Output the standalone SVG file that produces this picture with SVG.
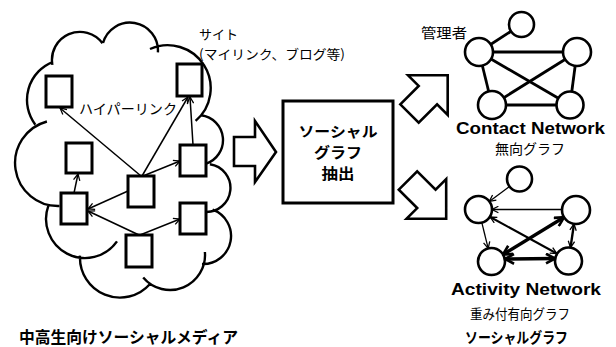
<svg xmlns="http://www.w3.org/2000/svg" width="616" height="347" viewBox="0 0 616 347">
<style>
.jp{font-family:"Noto Sans CJK JP","Noto Sans",sans-serif;fill:#000}
.b{font-weight:bold}
.en{font-family:"Liberation Sans","Noto Sans",sans-serif;font-weight:bold;fill:#000}
.site{fill:#fff;stroke:#000;stroke-width:3}
.ln{stroke:#000;stroke-width:1.5;fill:none}
.nd{fill:#fff;stroke:#000;stroke-width:2.6}
.ce{stroke:#000;stroke-width:2.8;fill:none}
.big{fill:#fff;stroke:#000;stroke-width:2.6;stroke-linejoin:miter}
</style>
<defs>
<marker id="ah" viewBox="0 0 10 10" refX="9" refY="5" markerWidth="8" markerHeight="8" markerUnits="userSpaceOnUse" orient="auto-start-reverse">
<path d="M1,1 L9,5 L1,9" fill="none" stroke="#000" stroke-width="1.6"/>
</marker>
<marker id="ahB" viewBox="0 0 10 10" refX="8.5" refY="5" markerWidth="12" markerHeight="12" markerUnits="userSpaceOnUse" orient="auto-start-reverse">
<path d="M1,1 L8.5,5 L1,9" fill="none" stroke="#000" stroke-width="2.2"/>
</marker>
<polygon id="bigarrow" points="0,-13 26,-13 26,-28 54,0 26,28 26,13 0,13"/>
</defs>

<g id="cloud" fill="none" stroke="#000" stroke-width="2.4">
<path d="M52.4,64.9 A28,28 0 0 1 102.5,43.3
M103,43 A28,28 0 0 1 157.9,52.4
M150,49 A43,43 0 0 1 195.6,120.9
M201,115.2 A25,25 0 0 1 205.7,163.8
M209.9,164.2 A24,24 0 0 1 204.9,211.9
M212.6,209.7 A28,28 0 0 1 202,264
M204.9,252 A35,35 0 0 1 143.2,277.5
M150,284 A40,40 0 0 1 80,255.6
M117,241.4 A39,39 0 0 1 48.4,205.7
M59.5,206 A43,43 0 0 1 46.9,121.5
M35.3,124.7 A41,41 0 0 1 53,61.8"/>
</g>

<g id="hyperlinks">
<line class="ln" x1="141" y1="176" x2="60" y2="108" marker-end="url(#ah)"/>
<line class="ln" x1="142" y1="176" x2="188" y2="97" marker-end="url(#ah)"/>
<line class="ln" x1="193" y1="145" x2="190" y2="97" marker-end="url(#ah)"/>
<line class="ln" x1="143" y1="176" x2="180" y2="161" marker-end="url(#ah)"/>
<line class="ln" x1="128" y1="191" x2="88" y2="209" marker-end="url(#ah)"/>
<line class="ln" x1="74" y1="193" x2="78" y2="174" marker-end="url(#ah)"/>
<line class="ln" x1="139" y1="235" x2="88" y2="211" marker-end="url(#ah)"/>
<line class="ln" x1="140" y1="235" x2="180" y2="219" marker-end="url(#ah)"/>
</g>

<g id="site1"><rect class="site" x="46" y="76" width="26" height="31"/></g>
<g id="site2"><rect class="site" x="177" y="64" width="25" height="32"/></g>
<g id="site3"><rect class="site" x="66" y="143" width="26" height="30"/></g>
<g id="site4"><rect class="site" x="180" y="145" width="26" height="31"/></g>
<g id="site5"><rect class="site" x="128" y="176" width="26" height="31"/></g>
<g id="site6"><rect class="site" x="61" y="193" width="26" height="31"/></g>
<g id="site7"><rect class="site" x="180" y="203" width="26" height="31"/></g>
<g id="site8"><rect class="site" x="126" y="235" width="26" height="32"/></g>

<g id="labels-left">
<text class="jp" x="199" y="39" font-size="13">サイト</text>
<text class="jp" x="199" y="59" font-size="13" textLength="146" lengthAdjust="spacingAndGlyphs">(マイリンク、ブログ等)</text>
<text class="jp" x="79" y="114" font-size="14" textLength="98" lengthAdjust="spacingAndGlyphs">ハイパーリンク</text>
<text class="jp b" x="19" y="343" font-size="16" textLength="219" lengthAdjust="spacingAndGlyphs">中高生向けソーシャルメディア</text>
</g>

<g id="arrow-right"><polygon class="big" points="234,137 255,137 255,121 276,152 255,182 255,166 234,166"/></g>

<g id="extract">
<rect x="283" y="101" width="110" height="102" fill="#fff" stroke="#000" stroke-width="3"/>
<text class="jp b" x="338" y="137" font-size="14.5" text-anchor="middle" textLength="79" lengthAdjust="spacingAndGlyphs">ソーシャル</text>
<text class="jp b" x="338" y="158" font-size="14.5" text-anchor="middle" textLength="48" lengthAdjust="spacingAndGlyphs">グラフ</text>
<text class="jp b" x="338" y="179" font-size="14.5" text-anchor="middle" textLength="33" lengthAdjust="spacingAndGlyphs">抽出</text>
</g>

<g id="arrow-up"><use href="#bigarrow" class="big" transform="translate(409.5,113.5) rotate(-45)"/></g>
<g id="arrow-down"><use href="#bigarrow" class="big" transform="translate(408,180.5) rotate(45)"/></g>

<g id="contact-edges">
<line class="ce" x1="479" y1="52" x2="521.5" y2="24.5"/>
<line class="ce" x1="479" y1="52" x2="577" y2="52"/>
<line class="ce" x1="479" y1="52" x2="492" y2="105"/>
<line class="ce" x1="479" y1="52" x2="570" y2="105"/>
<line class="ce" x1="577" y1="52" x2="492" y2="105"/>
<line class="ce" x1="577" y1="52" x2="570" y2="105"/>
<line class="ce" x1="492" y1="105" x2="570" y2="105"/>
</g>
<g id="c-top"><circle class="nd" cx="521.5" cy="24.5" r="12.5"/></g>
<g id="c-admin"><circle class="nd" cx="479" cy="52" r="14"/></g>
<g id="c-b"><circle class="nd" cx="577" cy="52" r="14"/></g>
<g id="c-c"><circle class="nd" cx="492" cy="105" r="14"/></g>
<g id="c-d"><circle class="nd" cx="570" cy="105" r="13.5"/></g>
<g id="contact-labels">
<text class="jp" x="421" y="38" font-size="14" textLength="46" lengthAdjust="spacingAndGlyphs">管理者</text>
<text class="en" x="456" y="134" font-size="17" textLength="149" lengthAdjust="spacingAndGlyphs">Contact Network</text>
<text class="jp" x="495" y="154" font-size="14" textLength="70" lengthAdjust="spacingAndGlyphs">無向グラフ</text>
</g>

<g id="activity-edges" fill="none" stroke="#000">
<line x1="509.5" y1="186.5" x2="489.3" y2="201.4" stroke-width="1.3" marker-end="url(#ah)"/>
<line x1="562" y1="209.5" x2="492" y2="209.5" stroke-width="1.3" marker-end="url(#ah)"/>
<line x1="481.8" y1="222.6" x2="488.2" y2="248.4" stroke-width="1.3" marker-end="url(#ah)"/>
<line x1="490.2" y1="217" x2="556.8" y2="253.5" stroke-width="2" marker-start="url(#ah)" marker-end="url(#ah)"/>
<line x1="564" y1="217.3" x2="503" y2="254.5" stroke-width="3.4" marker-start="url(#ahB)" marker-end="url(#ahB)"/>
<line x1="574" y1="223.9" x2="570.5" y2="247.6" stroke-width="2.4" marker-start="url(#ah)" marker-end="url(#ah)"/>
<line x1="505" y1="259" x2="555" y2="258.5" stroke-width="3.4" marker-start="url(#ahB)" marker-end="url(#ahB)"/>
</g>
<g id="a-top"><circle class="nd" cx="519.5" cy="179" r="12.5"/></g>
<g id="a-a"><circle class="nd" cx="478.5" cy="209.5" r="13.5"/></g>
<g id="a-b"><circle class="nd" cx="576" cy="210" r="14"/></g>
<g id="a-c"><circle class="nd" cx="491.5" cy="261.5" r="13.5"/></g>
<g id="a-d"><circle class="nd" cx="568.5" cy="261" r="13.5"/></g>
<g id="activity-labels">
<text class="en" x="451" y="295" font-size="17" textLength="150" lengthAdjust="spacingAndGlyphs">Activity Network</text>
<text class="jp" x="470" y="319" font-size="13.5" textLength="100" lengthAdjust="spacingAndGlyphs">重み付有向グラフ</text>
<text class="jp b" x="465" y="343" font-size="15" textLength="103" lengthAdjust="spacingAndGlyphs">ソーシャルグラフ</text>
</g>
</svg>
